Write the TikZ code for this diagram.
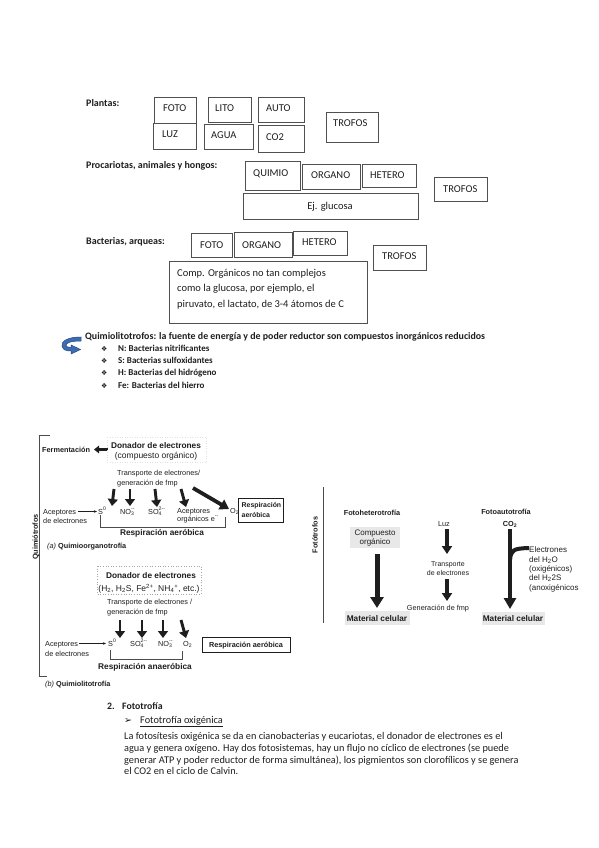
\documentclass[tikz,border=0pt]{standalone}
\usepackage{fontspec}
\setmainfont{Carlito}
\newfontfamily\arial{Liberation Sans}
\newfontfamily\dejavu{DejaVu Sans}
\usetikzlibrary{arrows.meta}
\definecolor{ink}{HTML}{1E1E1E}
\definecolor{boxline}{HTML}{505050}
\definecolor{arrowblue}{HTML}{3C6DB4}
\definecolor{arrowedge}{HTML}{27487E}
\newcommand\ssp[2]{\rlap{\textsubscript{#1}}\textsuperscript{#2}}
\begin{document}
\begin{tikzpicture}[x=1pt,y=-1pt,
  wbox/.style={draw=boxline,line width=0.9pt,anchor=north west,inner sep=0pt},
  boxtxt/.style={anchor=base west,font=\fontsize{10.5}{12}\selectfont,inner sep=0pt,text=ink},
  lab/.style={anchor=base west,font=\bfseries\fontsize{10}{12}\selectfont,inner sep=0pt,text=ink},
  bul/.style={anchor=base west,font=\bfseries\fontsize{9}{11}\selectfont,inner sep=0pt,text=ink},
  bsym/.style={anchor=base west,font=\dejavu\fontsize{7}{8}\selectfont,inner sep=0pt,text=ink},
  para/.style={anchor=base west,font=\fontsize{10.3}{12}\selectfont,inner sep=0pt,text=ink},
  sc/.style={font=\arial\fontsize{7.3}{8}\selectfont,text=ink,inner sep=0pt},
  scb/.style={font=\arial\bfseries\fontsize{7.3}{8}\selectfont,text=ink,inner sep=0pt},
  scl/.style={font=\arial\fontsize{8.5}{9}\selectfont,text=ink,inner sep=0pt},
  scbl/.style={font=\arial\bfseries\fontsize{8.3}{9}\selectfont,text=ink,inner sep=0pt},
  fat/.style={draw=ink,line width=2.9pt,-{Triangle[length=7pt,width=10pt]}},
  fatter/.style={draw=ink,line width=4.5pt,-{Triangle[length=11pt,width=12pt]}},
  mid/.style={draw=ink,line width=3.4pt,-{Triangle[length=8pt,width=10pt]}},
  thin/.style={draw=ink,line width=0.6pt,-{Stealth[length=3pt,width=2.5pt]}},
  brk/.style={draw=ink!80,line width=0.6pt},
  grayb/.style={fill=black!9,draw=none,inner sep=0pt,anchor=north west}
]
\useasboundingbox (0,0) rectangle (599,848);
\fill[white] (0,0) rectangle (599,848);

% ---------- Plantas ----------
\node[lab] (lplantas) at (86,107) {Plantas:};
\node[wbox,minimum width=42pt,minimum height=26pt] (pfoto) at (154,97) {};
\node[boxtxt] (tpfoto) at (163,112) {FOTO};
\node[wbox,minimum width=43pt,minimum height=25pt] (plito) at (208,97) {};
\node[boxtxt] (tplito) at (215,112) {LITO};
\node[wbox,minimum width=46pt,minimum height=25pt] (pauto) at (258,97) {};
\node[boxtxt] (tpauto) at (266,112) {AUTO};
\node[wbox,minimum width=43pt,minimum height=26pt] (pluz) at (153,123) {};
\node[boxtxt] (tpluz) at (162,138) {LUZ};
\node[wbox,minimum width=49pt,minimum height=25pt] (pagua) at (204,124) {};
\node[boxtxt] (tpagua) at (211,139) {AGUA};
\node[wbox,minimum width=46pt,minimum height=27pt] (pco) at (258,125) {};
\node[boxtxt] (tpco) at (266,140) {CO2};
\node[wbox,minimum width=52pt,minimum height=30pt] (ptro) at (326,112) {};
\node[boxtxt] (tptro) at (333,127) {TROFOS};

% ---------- Procariotas ----------
\node[lab] (lproc) at (86,168) {Procariotas, animales y hongos:};
\node[wbox,minimum width=55pt,minimum height=29pt] (qquim) at (245,161) {};
\node[boxtxt] (tqquim) at (253,176) {QUIMIO};
\node[wbox,minimum width=58pt,minimum height=25pt] (qorg) at (302,164) {};
\node[boxtxt] (tqorg) at (311,178) {ORGANO};
\node[wbox,minimum width=54pt,minimum height=23pt] (qhet) at (362,164) {};
\node[boxtxt] (tqhet) at (370,178) {HETERO};
\node[wbox,minimum width=53pt,minimum height=24pt] (qtro) at (434,177) {};
\node[boxtxt] (tqtro) at (443,192) {TROFOS};
\node[wbox,minimum width=175pt,minimum height=26pt] (qglu) at (243,193) {};
\node[boxtxt,anchor=base] (tqglu) at (330,209) {Ej. glucosa};

% ---------- Bacterias ----------
\node[lab] (lbact) at (86,244) {Bacterias, arqueas:};
\node[wbox,minimum width=41pt,minimum height=24pt] (bfoto) at (191,233) {};
\node[boxtxt] (tbfoto) at (200,248) {FOTO};
\node[wbox,minimum width=58pt,minimum height=25pt] (borg) at (234,232) {};
\node[boxtxt] (tborg) at (242,248) {ORGANO};
\node[wbox,minimum width=54pt,minimum height=24pt] (bhet) at (293,231) {};
\node[boxtxt] (tbhet) at (302,245) {HETERO};
\node[wbox,minimum width=53pt,minimum height=25pt] (btro) at (373,245) {};
\node[boxtxt] (tbtro) at (382,259) {TROFOS};
\node[wbox,minimum width=198pt,minimum height=62pt] (bcomp) at (169,261) {};
\node[boxtxt] (tbcomp1) at (177,276) {Comp. Orgánicos no tan complejos};
\node[boxtxt] (tbcomp2) at (177,291) {como la glucosa, por ejemplo, el};
\node[boxtxt] (tbcomp3) at (177,307) {piruvato, el lactato, de 3-4 átomos de C};

% ---------- Quimiolitotrofos ----------
\path[fill=arrowblue,draw=arrowedge,line width=0.5pt]
  (81,337) .. controls (68,337) and (61,341) .. (62,346)
  .. controls (63,350) and (66,351) .. (71,351)
  -- (71,354) -- (80.5,349.5) -- (71,345) -- (71,347.5)
  .. controls (68,347.5) and (66,346.5) .. (66,345.5)
  .. controls (66,343) and (70,341) .. (81,341) -- cycle;
\node[bul,font=\bfseries\fontsize{9.9}{11}\selectfont] (lquim) at (85,339) {Quimiolitotrofos: la fuente de energía y de poder reductor son compuestos inorgánicos reducidos};
\node[bsym] (s1) at (101,351) {❖};
\node[bul] (b1) at (118,351) {N: Bacterias nitrificantes};
\node[bsym] (s2) at (101,363) {❖};
\node[bul] (b2) at (118,363) {S: Bacterias sulfoxidantes};
\node[bsym] (s3) at (101,375) {❖};
\node[bul] (b3) at (118,375) {H: Bacterias del hidrógeno};
\node[bsym] (s4) at (101,388) {❖};
\node[bul] (b4) at (118,388) {Fe: Bacterias del hierro};

% ---------- Scanned figure: quimiotrofos ----------
\draw[brk] (50,435) -- (39,435) -- (39,676) -- (47,676);
\node[scb,rotate=90] (lquimiotr) at (36,537) {Quimiótrofos};

% (a)
\node[scb,anchor=base west] (ferm) at (42,452) {Fermentación};
\coordinate (fermS) at (108,449.5);
\coordinate (fermE) at (94,449.5);
\draw[draw=ink,line width=2.2pt,-{Triangle[length=5pt,width=7.5pt]}] (fermS) -- (fermE);
\draw[black!12,dotted,line width=0.5pt] (107,437) rectangle (206,462);
\node[scbl,anchor=base] (donA1) at (156,448) {Donador de electrones};
\node[scl,anchor=base] (donA2) at (156,458) {(compuesto orgánico)};
\node[sc,anchor=base west] (trA1) at (117,475) {Transporte de electrones/};
\node[sc,anchor=base west] (trA2) at (117,485) {generación de fmp};
\coordinate (a1s) at (114,489); \coordinate (a1e) at (112,506);
\coordinate (a2s) at (130,489); \coordinate (a2e) at (130,506);
\coordinate (a3s) at (155,489); \coordinate (a3e) at (157,507);
\coordinate (a4s) at (181,489); \coordinate (a4e) at (186,507);
\coordinate (a5s) at (193,488); \coordinate (a5e) at (229,509);
\draw[fat] (a1s) -- (a1e);
\draw[fat] (a2s) -- (a2e);
\draw[fat] (a3s) -- (a3e);
\draw[fat] (a4s) -- (a4e);
\draw[draw=ink,line width=3.8pt,-{Triangle[length=9pt,width=11pt]}] (a5s) -- (a5e);
\node[sc,anchor=base west] (acA1) at (43,514) {Aceptores};
\node[sc,anchor=base west] (acA2) at (43,523) {de electrones};
\node[sc,anchor=base west] (S0A) at (98,514) {S\textsuperscript{0}};
\coordinate (acAs) at (78,511.5); \coordinate (acAe) at (97,511.5);
\draw[thin] (acAs) -- (acAe);
\node[sc,anchor=base west] (NO3A) at (120,514) {NO\ssp{3}{--}};
\node[sc,anchor=base west] (SO4A) at (148,514) {SO\ssp{4}{2--}};
\node[sc,anchor=base west] (orgA1) at (177,513) {Aceptores};
\node[sc,anchor=base west] (orgA2) at (177,521) {orgánicos e\textsuperscript{--}};
\node[sc,anchor=base west] (O2A) at (230,513) {O\textsubscript{2}};
\draw[brk] (100,515) -- (100,527) -- (225,527) -- (225,517);
\node[draw=ink,line width=1.3pt,minimum width=45pt,minimum height=24pt,anchor=north west,inner sep=0pt] (respAbox) at (238,498) {};
\node[scb,font=\arial\bfseries\fontsize{6.9}{8}\selectfont,anchor=base west] (respA1) at (241.5,507.5) {Respiración};
\node[scb,font=\arial\bfseries\fontsize{6.9}{8}\selectfont,anchor=base west] (respA2) at (241.5,517.5) {aeróbica};
\node[scbl,anchor=base] (respA3) at (162,535) {Respiración aeróbica};
\node[sc,anchor=base west] (labA) at (47,548) {\textit{(a)} \textbf{Quimioorganotrofía}};

% (b)
\draw[black!35,dotted,line width=0.6pt] (97,566) rectangle (201,594);
\node[scbl,anchor=base] (donB1) at (151,578) {Donador de electrones};
\node[scl,anchor=base] (donB2) at (149,591) {(H\textsubscript{2}, H\textsubscript{2}S, Fe\textsuperscript{2+}, NH\textsubscript{4}\textsuperscript{+}, etc.)};
\node[sc,anchor=base west] (trB1) at (107,604) {Transporte de electrones /};
\node[sc,anchor=base west] (trB2) at (107,614) {generación de fmp};
\coordinate (b1s) at (120,620); \coordinate (b1e) at (120,638);
\coordinate (b2s) at (142,620); \coordinate (b2e) at (142,638);
\coordinate (b3s) at (163,620); \coordinate (b3e) at (163,638);
\coordinate (b4s) at (181,620); \coordinate (b4e) at (186,638);
\draw[fat] (b1s) -- (b1e);
\draw[fat] (b2s) -- (b2e);
\draw[fat] (b3s) -- (b3e);
\draw[fat] (b4s) -- (b4e);
\node[sc,anchor=base west] (acB1) at (45,646) {Aceptores};
\node[sc,anchor=base west] (acB2) at (45,656) {de electrones};
\node[sc,anchor=base west] (S0B) at (108,646) {S\textsuperscript{0}};
\coordinate (acBs) at (79,643.5); \coordinate (acBe) at (106,643.5);
\draw[thin] (acBs) -- (acBe);
\node[sc,anchor=base west] (SO4B) at (130,646) {SO\ssp{4}{2--}};
\node[sc,anchor=base west] (NO3B) at (158,646) {NO\ssp{3}{--}};
\node[sc,anchor=base west] (O2B) at (183,646) {O\textsubscript{2}};
\node[draw=ink,line width=0.7pt,minimum width=88pt,minimum height=15pt,anchor=north west,inner sep=0pt] (respBbox) at (202,637) {};
\node[scb,anchor=base] (respB1) at (246,647) {Respiración aeróbica};
\draw[brk] (110,650) -- (110,659) -- (182,659) -- (182,651);
\node[scbl,anchor=base] (respB2) at (145,669) {Respiración anaeróbica};
\node[sc,anchor=base west] (labB) at (45,686) {\textit{(b)} \textbf{Quimiolitotrofía}};

% ---------- Scanned figure: fototrofos ----------
\draw[brk] (323,487) -- (323,623);
\node[scb,rotate=90] (lfotot) at (315,535) {Fotótrofos};
\node[scb,anchor=base] (fh) at (372,515) {Fotoheterotrofía};
\node[grayb,minimum width=50pt,minimum height=21pt] (compbox) at (350,527) {};
\node[sc,font=\arial\fontsize{8}{9}\selectfont,anchor=base] (comp1) at (375,535.5) {Compuesto};
\node[sc,font=\arial\fontsize{8}{9}\selectfont,anchor=base] (comp2) at (375,544.5) {orgánico};
\node[grayb,minimum width=65pt,minimum height=14pt] (mc1box) at (345,611) {};
\node[scbl,anchor=base] (mc1) at (377,621) {Material celular};
\coordinate (fhs) at (377,554); \coordinate (fhe) at (377,608);
\draw[draw=ink,line width=5pt,-{Triangle[length=11pt,width=13pt]}] (fhs) -- (fhe);

\node[sc,anchor=base] (luz) at (444,526) {Luz};
\node[sc,font=\arial\fontsize{7}{8}\selectfont,anchor=base] (tr1) at (448,566) {Transporte};
\node[sc,font=\arial\fontsize{7}{8}\selectfont,anchor=base] (tr2) at (448,575) {de electrones};
\node[sc,anchor=base] (gen) at (438,610) {Generación de fmp};
\coordinate (l1s) at (447,529); \coordinate (l1e) at (447,554);
\coordinate (l2s) at (447,579); \coordinate (l2e) at (447,601);
\draw[mid] (l1s) -- (l1e);
\draw[mid] (l2s) -- (l2e);

\node[scb,anchor=base] (fa) at (506,514) {Fotoautotrofía};
\node[scb,anchor=base] (co2) at (510,526) {CO\textsubscript{2}};
\node[grayb,minimum width=63pt,minimum height=13pt] (mc2box) at (482,612) {};
\node[scbl,anchor=base] (mc2) at (513,621) {Material celular};
\coordinate (fas) at (510,529); \coordinate (fae) at (510,609);
\draw[fatter] (fas) -- (fae);
\coordinate (brs) at (510,560); \coordinate (bre) at (529,548);
\draw[draw=ink,line width=4pt] (brs) .. controls (511,550) and (513,548.5) .. (bre);
\node[sc,font=\arial\fontsize{8}{9}\selectfont,anchor=base west] (el1) at (529,552) {Electrones};
\node[sc,font=\arial\fontsize{8}{9}\selectfont,anchor=base west] (el2) at (529,562) {del H\textsubscript{2}O};
\node[sc,font=\arial\fontsize{8}{9}\selectfont,anchor=base west] (el3) at (529,571) {(oxigénicos)};
\node[sc,font=\arial\fontsize{8}{9}\selectfont,anchor=base west] (el4) at (529,580) {del H\textsubscript{2}2S};
\node[sc,font=\arial\fontsize{8}{9}\selectfont,anchor=base west] (el5) at (529,590) {(anoxigénicos};

% ---------- Fototrofia text ----------
\node[anchor=base west,font=\bfseries\fontsize{9.8}{11}\selectfont,inner sep=0pt,text=ink] (n2) at (107,709) {2.};
\node[anchor=base west,font=\bfseries\fontsize{9.8}{11}\selectfont,inner sep=0pt,text=ink] (hfot) at (122,709) {Fototrofía};
\node[anchor=base west,font=\dejavu\fontsize{9.5}{10}\selectfont,inner sep=0pt,text=ink] (arr) at (124,723.5) {➢};
\node[para] (hox) at (140,723) {\underline{Fototrofía oxigénica}};
\node[para] (p1) at (124,739) {La fotosítesis oxigénica se da en cianobacterias y eucariotas, el donador de electrones es el};
\node[para] (p2) at (124,751) {agua y genera oxígeno. Hay dos fotosistemas, hay un flujo no cíclico de electrones (se puede};
\node[para] (p3) at (124,763) {generar ATP y poder reductor de forma simultánea), los pigmientos son clorofílicos y se genera};
\node[para] (p4) at (124,774) {el CO2 en el ciclo de Calvin.};
\end{tikzpicture}
\end{document}
